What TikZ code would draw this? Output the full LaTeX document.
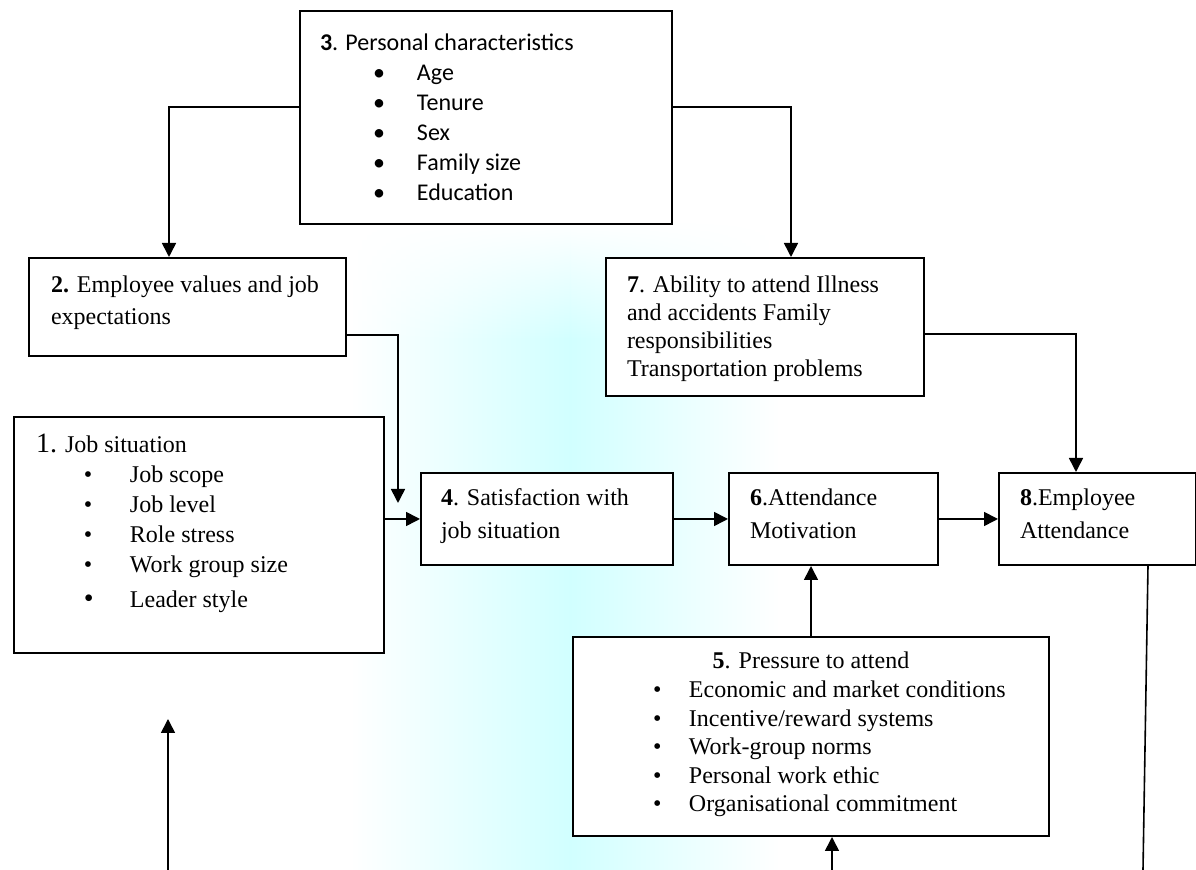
\documentclass[tikz,border=0pt]{standalone}
\usepackage{fontspec}
\setmainfont{Liberation Serif}
\newfontfamily\calfont{Carlito}
\usepackage{tikz}
\usetikzlibrary{arrows.meta, fadings}

\newcommand{\cell}[3]{\begin{minipage}[t][#2][t]{#1}#3\end{minipage}}
\newcommand{\bul}[3]{\par\hspace*{#1}\makebox[#2][l]{\textbullet}#3}

\tikzset{
  box/.style={draw, fill=white, line width=1pt, inner sep=0pt, anchor=north west},
  arr/.style={-{Triangle[length=7pt,width=7pt]}, line width=0.8pt},
  plain/.style={line width=0.8pt}
}

\begin{document}
\begin{tikzpicture}[x=0.5pt,y=-0.5pt]
  \useasboundingbox (0,0) rectangle (1196,870);

  % faint watermark behind the boxes
  \shade[left color=white, right color=cyan!18, path fading=north] (350,220) rectangle (570,340);
  \shade[left color=cyan!18, right color=white, path fading=north] (570,220) rectangle (780,340);
  \shade[left color=white, right color=cyan!18] (350,339) rectangle (570,870);
  \shade[left color=cyan!18, right color=white] (570,339) rectangle (780,870);

  % 3: personal characteristics on top
  \node[box] (pers) at (299,10) {\cell{186pt}{106.5pt}{\calfont\fontsize{12}{15}\selectfont\leftskip=10pt
    \rule{0pt}{20pt}\textbf{3}. Personal characteristics
    \bul{26.5pt}{22pt}{Age}
    \bul{26.5pt}{22pt}{Tenure}
    \bul{26.5pt}{22pt}{Sex}
    \bul{26.5pt}{22pt}{Family size}
    \bul{26.5pt}{22pt}{Education}}};

  % 2 and 7 below it
  \node[box] (val) at (28,257) {\cell{158.5pt}{49pt}{\fontsize{12}{16}\selectfont\leftskip=11pt
    \rule{0pt}{17.5pt}\textbf{2.} Employee values and job\par expectations}};
  \node[box] (abil) at (605,257) {\cell{159pt}{69pt}{\fontsize{12}{14}\selectfont\leftskip=10.5pt
    \rule{0pt}{17.5pt}\textbf{7}. Ability to attend Illness\par and accidents Family\par
    responsibilities\par Transportation problems}};

  % 1: job situation
  \node[box] (sit) at (13,416) {\cell{185pt}{118pt}{\fontsize{12}{15}\selectfont\leftskip=11pt
    \rule{0pt}{18pt}{\fontsize{14}{15}\selectfont 1.} Job situation
    \bul{24pt}{23pt}{Job scope}
    \bul{24pt}{23pt}{Job level}
    \bul{24pt}{23pt}{Role stress}
    \bul{24pt}{23pt}{Work group size}
    \par\vspace{2.5pt}\hspace*{24pt}\makebox[23pt][l]{\fontsize{14}{15}\selectfont\textbullet}Leader style}};

  % middle row: 4, 6, 8
  \node[box] (sat) at (420,472) {\cell{126pt}{46pt}{\fontsize{12}{16.5}\selectfont\leftskip=10pt
    \rule{0pt}{16.5pt}\textbf{4}. Satisfaction with\par job situation}};
  \node[box] (mot) at (728,472) {\cell{104.5pt}{46pt}{\fontsize{12}{16.5}\selectfont\leftskip=10.5pt
    \rule{0pt}{16.5pt}\textbf{6}.Attendance\par Motivation}};
  \node[box] (att) at (998,472) {\cell{98.5pt}{46pt}{\fontsize{12}{16.5}\selectfont\leftskip=10.5pt
    \rule{0pt}{16.5pt}\textbf{8}.Employee\par Attendance}};

  % 5: pressure to attend
  \node[box] (pres) at (572,636) {\cell{238pt}{99.5pt}{\fontsize{12}{14.3}\selectfont
    {\centering\rule{0pt}{16pt}\textbf{5}. Pressure to attend\par}
    \bul{40pt}{18pt}{Economic and market conditions}
    \bul{40pt}{18pt}{Incentive/reward systems}
    \bul{40pt}{18pt}{Work-group norms}
    \bul{40pt}{18pt}{Personal work ethic}
    \bul{40pt}{18pt}{Organisational commitment}}};

  % free ends
  \coordinate (valend) at (398,503);
  \coordinate (sbot) at (168,870);
  \coordinate (stip) at (168,719);
  \coordinate (pbot) at (832,870);
  \coordinate (aout) at (1143,870);

  % connectors
  \draw[arr] ([yshift=5.25pt]pers.west) -| ([xshift=-9.25pt]val.north);
  \draw[arr] ([yshift=5.25pt]pers.east) -| ([xshift=13pt]abil.north);
  \draw[arr] ([yshift=-14pt]val.east) -| (valend);
  \draw[arr] ([yshift=-3.5pt]abil.east) -| ([xshift=-10.75pt]att.north);
  \draw[arr] (sit.east |- sat.west) -- (sat.west);
  \draw[arr] (sat.east) -- (mot.west);
  \draw[arr] (mot.east) -- (att.west);
  \draw[arr] (pres.north) -- (pres.north |- mot.south);
  \draw[arr] (pbot) -- (pbot |- pres.south);
  \draw[arr] (sbot) -- (stip);
  \draw[plain] ([xshift=25.25pt]att.south) -- (aout);
\end{tikzpicture}
\end{document}
